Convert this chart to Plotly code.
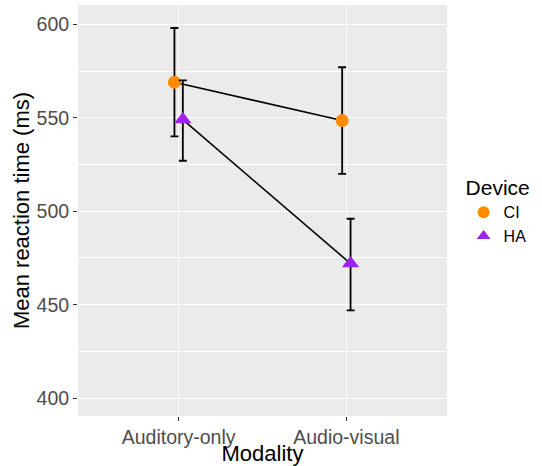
import plotly.graph_objects as go

modality = ["Auditory-only", "Audio-visual"]
devices = ["CI", "HA"]
mean_rt = {"CI": [569, 548.5], "HA": [549, 472]}
err_hi = {"CI": [598, 577], "HA": [570, 496]}
err_lo = {"CI": [540, 520], "HA": [527, 447]}
colors = {"CI": "#FF8C00", "HA": "#A020F0"}
symbols = {"CI": "circle", "HA": "triangle-up"}
dodge = {"CI": -0.025, "HA": 0.025}

fig = go.Figure()
for d in devices:
    xs = [i + dodge[d] for i in range(len(modality))]
    fig.add_trace(go.Scatter(x=xs, y=mean_rt[d], mode="lines",
                             line=dict(color="black", width=1.6),
                             showlegend=False, hoverinfo="skip"))
for d in devices:
    xs = [i + dodge[d] for i in range(len(modality))]
    fig.add_trace(go.Scatter(
        x=xs, y=mean_rt[d], mode="markers", name=d,
        marker=dict(color=colors[d], symbol=symbols[d],
                    size=13 if d == "CI" else 15, line=dict(width=0)),
        error_y=dict(type="data", symmetric=False,
                     array=[h - m for h, m in zip(err_hi[d], mean_rt[d])],
                     arrayminus=[m - l for l, m in zip(err_lo[d], mean_rt[d])],
                     color="black", thickness=1.8, width=4)))

fig.update_layout(
    width=542, height=466,
    margin=dict(l=78, r=95, t=5, b=50, autoexpand=False),
    paper_bgcolor="white", plot_bgcolor="#EBEBEB",
    font=dict(family="Liberation Sans, Arial, sans-serif"),
    legend=dict(title=dict(text="Device", font=dict(size=21, color="black")),
                font=dict(size=16, color="black"),
                x=1.045, xanchor="left", y=0.5, yanchor="middle",
                tracegroupgap=0, itemsizing="constant", itemwidth=30),
)
fig.update_xaxes(
    range=[-0.6, 1.6], tickmode="array", tickvals=[0, 1], ticktext=modality,
    showgrid=True, gridcolor="white", gridwidth=1.1, zeroline=False,
    ticks="outside", ticklen=4, tickcolor="#333333", tickwidth=1,
    tickfont=dict(size=19.5, color="#4D4D4D"), automargin=False,
    title=dict(text="Modality", font=dict(size=22, color="black"), standoff=0),
)
fig.update_yaxes(
    range=[390.5, 610.3], tickvals=[400, 450, 500, 550, 600],
    showgrid=True, gridcolor="white", gridwidth=1.1, zeroline=False,
    minor=dict(tickvals=[425, 475, 525, 575], showgrid=True, gridcolor="white", gridwidth=0.5),
    ticks="outside", ticklen=4, tickcolor="#333333", tickwidth=1,
    tickfont=dict(size=19.5, color="#4D4D4D"), automargin=False,
    title=dict(text="Mean reaction time (ms)", font=dict(size=22, color="black"), standoff=0),
)
fig.write_html("out.html", config={"displayModeBar": False},
               post_script="document.body.style.margin='0';")
